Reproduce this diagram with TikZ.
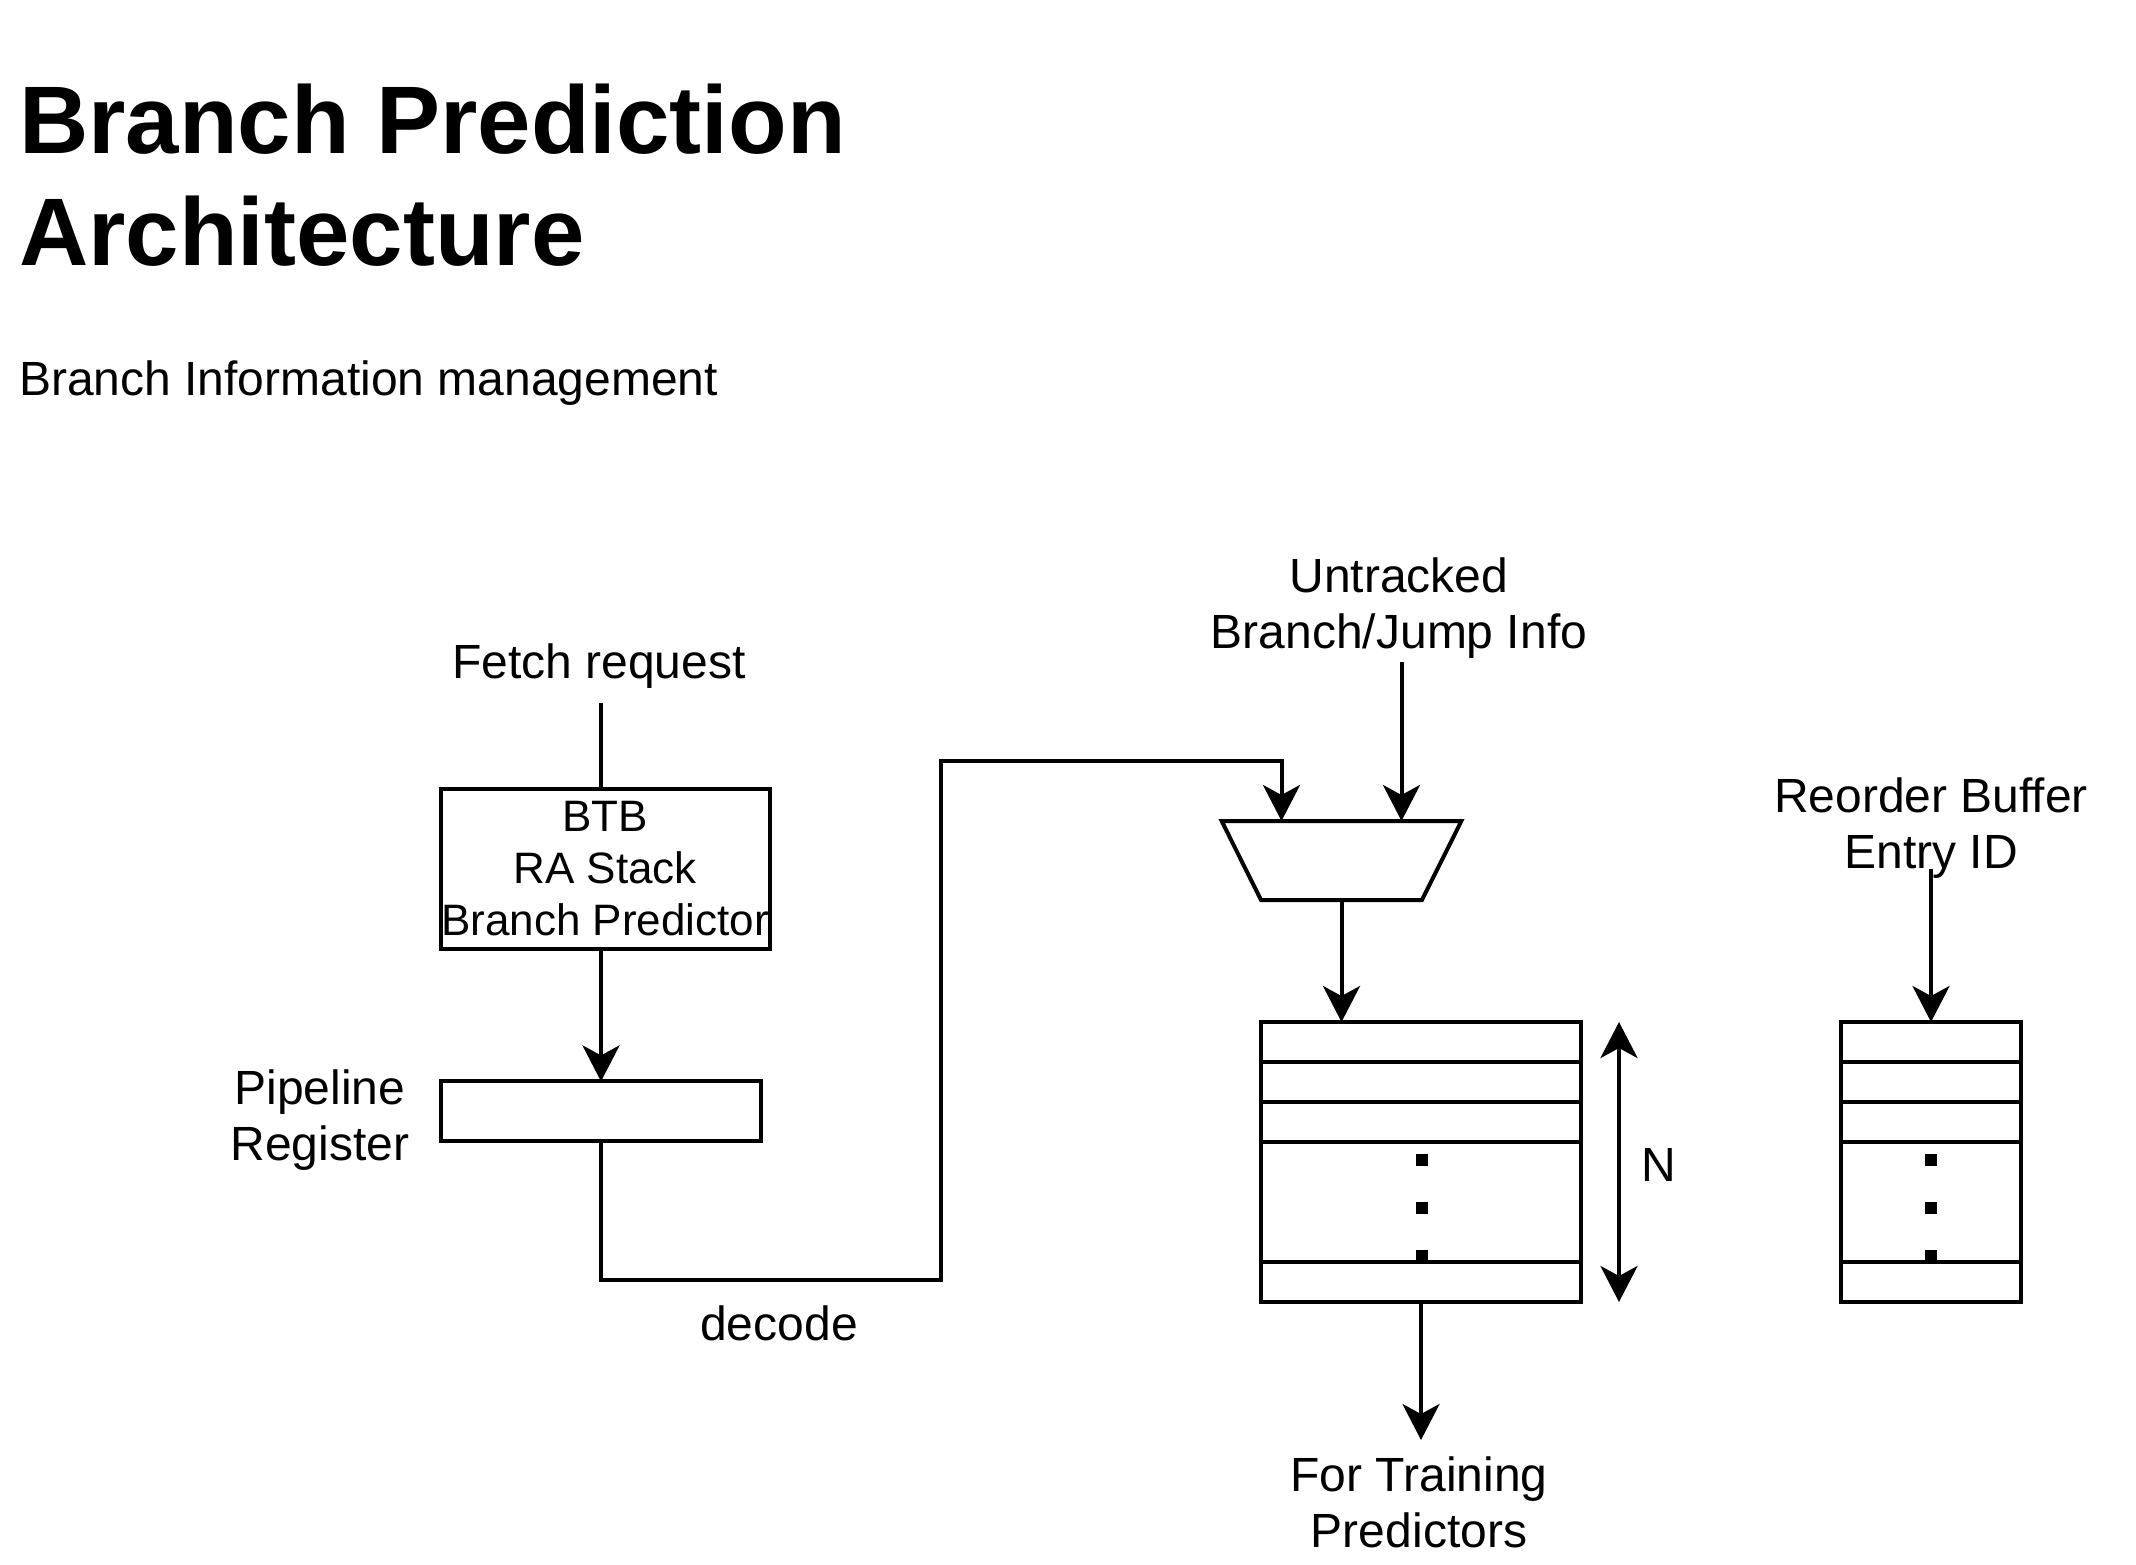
\documentclass[tikz,border=0pt]{standalone}
\usepackage{fontspec}
\setmainfont{Liberation Sans}
\usetikzlibrary{arrows.meta,calc}
\begin{document}
\begin{tikzpicture}[x=0.5pt,y=-0.5pt, line width=2pt,
  lab/.style={font=\fontsize{24}{28}\selectfont, align=center, inner sep=0, anchor=base},
  blk/.style={draw, inner sep=0, outer sep=0},
  tip/.tip={Stealth[length=18pt,width=18.5pt,inset=5pt]},
  arr/.style={-tip},
  darr/.style={tip-tip}]
\useasboundingbox (0,0) rectangle (2136,1564);
% titles (anchor base = baseline of the last line)
\node[anchor=base west, font=\fontsize{48}{56}\selectfont\bfseries, inner sep=0, align=left] (title) at (17,265.6) {Branch Prediction\\Architecture};
\node[anchor=base west, font=\fontsize{24}{28}\selectfont, inner sep=0] (sub) at (17,395) {Branch Information management};
% fetch stage
\node[lab] (fetch) at (599,678) {Fetch request};
\node[blk, minimum width=164.25pt, minimum height=80.2pt, font=\fontsize{22}{26}\selectfont, align=center] (btb) at (605.25,868.8) {BTB\\RA Stack\\Branch Predictor};
\node[blk, minimum width=160pt, minimum height=29.8pt] (preg) at (601,1111.2) {};
\node[lab] (pregl) at (320,1160) {Pipeline\\Register};
\coordinate (fetchend) at (601,703);
\draw (fetchend) -- (fetchend |- btb.north);
\draw[arr] (btb.south -| preg.north) -- (preg.north);
% mux
\node[inner sep=0, outer sep=0, minimum width=119.85pt, minimum height=39.5pt] (mux) at (1341.5,860.5) {};
\draw (mux.north west) -- (mux.north east) -- ($(mux.south east)+(-39.4,0)$) -- ($(mux.south west)+(39.4,0)$) -- cycle;
\coordinate (in1) at ($(mux.north)+(-60,0)$);
\coordinate (in2) at ($(mux.north)+(60,0)$);
\coordinate (b1) at (941,1280);
\coordinate (b2) at (941,761);
\draw[arr] (preg.south) |- (b1) -- (b2) -| (in1);
\node[lab] (dec) at (779,1340) {decode};
\node[lab] (untr) at (1399,648) {Untracked\\Branch/Jump Info};
\coordinate (utend) at (1401.5,662);
\draw[arr] (utend) -- (in2);
% branch info buffer
\node[blk, minimum width=160pt, minimum height=140pt] (buf) at (1421,1162) {};
\foreach \k in {40,80,120,240}{\draw ($(buf.north west)+(0,\k)$) -- ($(buf.north east)+(0,\k)$);}
\foreach \k in {132,180,228}{\fill ($(buf.north)+(-5,\k)$) rectangle ++(12,12);}
\draw[arr] (mux.south) -- (mux.south |- buf.north);
\coordinate (train) at (1421,1440);
\draw[arr] (buf.south) -- (train);
\node[lab] (trainl) at (1419,1547) {For Training\\Predictors};
\coordinate (ntop) at ($(buf.north east)+(38,0)$);
\coordinate (nbot) at ($(buf.south east)+(38,0)$);
\draw[darr] (ntop) -- (nbot);
\node[lab] (nl) at (1659,1181) {N};
% reorder buffer
\node[blk, minimum width=90pt, minimum height=140pt] (rob) at (1931,1162) {};
\foreach \k in {40,80,120,240}{\draw ($(rob.north west)+(0,\k)$) -- ($(rob.north east)+(0,\k)$);}
\foreach \k in {132,180,228}{\fill ($(rob.north)+(-6,\k)$) rectangle ++(12,12);}
\node[lab] (robl) at (1931,868) {Reorder Buffer\\Entry ID};
\coordinate (robin) at (1931,869);
\draw[arr] (robin) -- (rob.north);
\end{tikzpicture}
\end{document}
